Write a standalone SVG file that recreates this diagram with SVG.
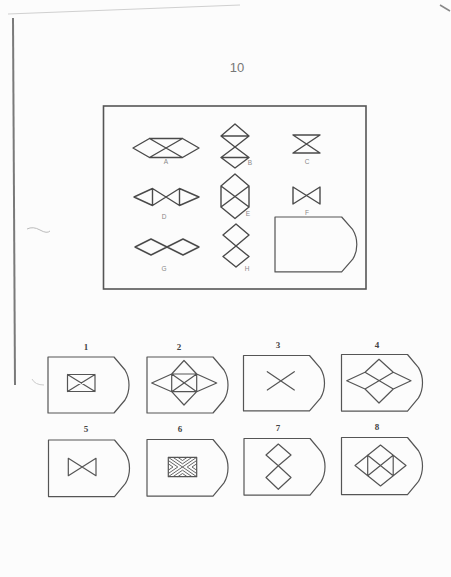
<svg xmlns="http://www.w3.org/2000/svg" width="451" height="577" viewBox="0 0 451 577">
<style>
.s{fill:none;stroke:#4a4a4a;stroke-width:1.4;stroke-linejoin:round;stroke-linecap:round}
.t{fill:none;stroke:#555;stroke-width:1.2;stroke-linejoin:round;stroke-linecap:round}
.h{fill:none;stroke:#555;stroke-width:0.9}
.lbl{font-family:"Liberation Sans",Arial,sans-serif;font-size:6.5px;fill:#888;text-anchor:middle}
.num{font-family:"Liberation Serif","Times New Roman",serif;font-size:9px;font-weight:bold;fill:#444;text-anchor:middle}
</style>
<defs>
<path id="shield" d="M0,0 H66 L77,13 C80,18 81,24 81,28 C81,32 80,38 77,43 L66,56 H0 Z"/>
</defs>
<rect x="0" y="0" width="451" height="577" fill="#fcfcfc"/>
<g id="page">
<path d="M8,14 L240,5" stroke="#d0d0d0" stroke-width="1" fill="none"/>
<path d="M440,5 L450,11" stroke="#888" stroke-width="1.5" fill="none"/>
<path d="M13,18 L15,385" stroke="#7a7a7a" stroke-width="2" fill="none"/>
<path d="M27,229 Q33,226 40,230 T50,231" stroke="#bbb" stroke-width="1" fill="none"/>
<path d="M32,379 Q35,385 44,385" stroke="#ccc" stroke-width="1" fill="none"/>
<text x="237" y="72" font-family="Liberation Sans, Arial, sans-serif" font-size="13" fill="#777" text-anchor="middle">10</text>
</g>
<g id="connectors"/>
<g id="matrix">
<rect x="103.5" y="106" width="262.5" height="183" fill="none" stroke="#555" stroke-width="1.6"/>
</g>
<g id="figA">
<path class="s" d="M133,148 L149.5,138.5 L182.5,138.5 L199,148 L182.5,157.5 L149.5,157.5 Z M149.5,138.5 L182.5,157.5 M182.5,138.5 L149.5,157.5"/>
<text class="lbl" x="166" y="164">A</text>
</g>
<g id="figB">
<path class="s" d="M235,124 L249,136 L235,147 L221,136 Z M235,147 L249,157.5 L235,168 L221,157.5 Z M221,136 H249 M221,157.5 H249"/>
<text class="lbl" x="250" y="165">B</text>
</g>
<g id="figC">
<path class="s" d="M293,135 H320 L293,153 H320 Z"/>
<text class="lbl" x="307" y="164">C</text>
</g>
<g id="figD">
<path class="s" d="M134,197 L152.5,188.5 L166,197 L152.5,205.5 Z M166,197 L179.5,188.5 L199,197 L179.5,205.5 Z M152.5,188.5 V205.5 M179.5,188.5 V205.5"/>
<text class="lbl" x="164" y="219">D</text>
</g>
<g id="figE">
<path class="s" d="M235,174 L249,186 L249,207 L235,218.5 L221,207 L221,186 Z M221,186 L249,207 M249,186 L221,207"/>
<text class="lbl" x="248" y="216">E</text>
</g>
<g id="figF">
<path class="s" d="M293,187 V204 L320,187 V204 Z"/>
<text class="lbl" x="307" y="215">F</text>
</g>
<g id="figG">
<path class="s" d="M135,247 L151,239 L167,247 L151,255 Z M167,247 L183,239 L199,247 L183,255 Z"/>
<text class="lbl" x="164" y="271">G</text>
</g>
<g id="figH">
<path class="s" d="M236,224 L249,235 L236,246 L223,235 Z M236,246 L249,256.5 L236,267 L223,256.5 Z"/>
<text class="lbl" x="247" y="271">H</text>
</g>
<g id="blank">
<use href="#shield" class="t" transform="translate(275,217) scale(1.01,0.98)"/>
</g>
<g id="opt1">
<text class="num" x="86" y="350">1</text>
<use href="#shield" class="t" transform="translate(48,357)"/>
<path class="t" d="M67.5,374.5 H95 V391.5 H67.5 Z M67.5,374.5 L95,391.5 M95,374.5 L67.5,391.5"/>
</g>
<g id="opt2">
<text class="num" x="179" y="350">2</text>
<use href="#shield" class="t" transform="translate(147,357)"/>
<path class="t" d="M171.7,374 H196.7 V391.7 H171.7 Z M171.7,374 L196.7,391.7 M196.7,374 L171.7,391.7 M171.7,374 L151.7,383 L171.7,391.7 M196.7,374 L216.7,383 L196.7,391.7 M171.7,374 L184,360.5 L196.7,374 M171.7,391.7 L184,405 L196.7,391.7"/>
</g>
<g id="opt3">
<text class="num" x="278" y="348">3</text>
<use href="#shield" class="t" transform="translate(243.5,355.5) scale(1,0.99)"/>
<path class="t" d="M267.3,371.7 L294.3,390 M294.3,371.7 L267.3,390"/>
</g>
<g id="opt4">
<text class="num" x="377" y="348">4</text>
<use href="#shield" class="t" transform="translate(341.5,354.5) scale(1,1.01)"/>
<path class="t" d="M346.7,380.7 L365,372.3 L379,359.3 L393.3,372.3 L411,380.7 L393.3,389 L379,403 L365,389 Z M365,372.3 L393.3,389 M393.3,372.3 L365,389"/>
</g>
<g id="opt5">
<text class="num" x="86" y="432">5</text>
<use href="#shield" class="t" transform="translate(48.5,440) scale(1,1.01)"/>
<path class="t" d="M68.3,458.3 V475.7 L96,458.3 V475.7 Z"/>
</g>
<g id="opt6">
<text class="num" x="180" y="432">6</text>
<use href="#shield" class="t" transform="translate(147,439.5) scale(1,1.01)"/>
<path class="t" d="M168.3,457.3 H196.7 V476.7 H168.3 Z"/>
<path class="h" d="M168.3,457.3 L196.7,476.7 M196.7,457.3 L168.3,476.7 M173,457.3 L182.5,463.8 L192,457.3 M177.8,457.3 L182.5,460.5 L187.2,457.3 M173,476.7 L182.5,470.2 L192,476.7 M177.8,476.7 L182.5,473.5 L187.2,476.7 M168.3,460.5 L177.8,467 L168.3,473.5 M168.3,463.8 L173,467 L168.3,470.2 M196.7,460.5 L187.2,467 L196.7,473.5 M196.7,463.8 L192,467 L196.7,470.2"/>
</g>
<g id="opt7">
<text class="num" x="278" y="431">7</text>
<use href="#shield" class="t" transform="translate(244,438.5) scale(1,1.01)"/>
<path class="t" d="M278.3,444 L291,455 L278.3,465.7 L266,455 Z M278.3,465.7 L291,477.5 L278.3,489.3 L266,477.5 Z"/>
</g>
<g id="opt8">
<text class="num" x="377" y="430">8</text>
<use href="#shield" class="t" transform="translate(341.5,437.5) scale(1,1.02)"/>
<path class="t" d="M355,465.5 L380.5,445 L406,465.5 L380.5,486 Z M367.7,455.2 L393.2,475.8 M393.2,455.2 L367.7,475.8 M367.7,455.2 V475.8 M393.2,455.2 V475.8"/>
</g>
</svg>
